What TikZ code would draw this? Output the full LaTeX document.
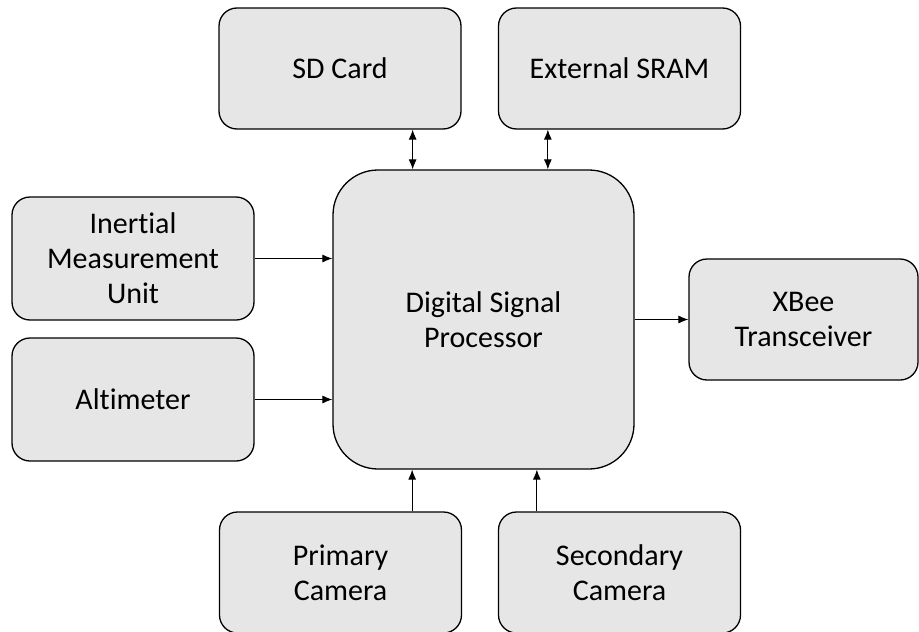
\documentclass[tikz,border=0pt]{standalone}
\usepackage{fontspec}
\setmainfont{Carlito}[Ligatures=NoCommon]
\usepackage{xcolor}
\usetikzlibrary{arrows.meta, positioning, calc}
\definecolor{boxgray}{RGB}{230, 230, 230}

\begin{document}
\begin{tikzpicture}[x=1pt, y=-1pt,
    block/.style={draw, line width=1.3pt, fill=boxgray, rounded corners=18pt, align=center,
        inner sep=0pt, minimum width=242pt, minimum height=121pt,
        font=\fontsize{30}{35}\selectfont},
    arr/.style={-{Latex[length=10pt, width=8pt]}, line width=0.9pt},
    biarr/.style={{Latex[length=10pt, width=8pt]}-{Latex[length=10pt, width=8pt]}, line width=0.9pt}]
    \useasboundingbox (0,0) rectangle (919,632);

    % Central node
    \node[block, rounded corners=45pt, minimum width=301pt, minimum height=299pt] (dsp) at (483.5, 319.5) {Digital Signal\\Processor};

    % Memory
    \node[block] (sd) at (340, 68.5) {SD Card};
    \node[block] (sram) at (619.5, 68.5) {External SRAM};

    % Sensors
    \node[block, minimum height=123pt] (imu) at (133, 258.5) {Inertial\\Measurement\\Unit};
    \node[block, minimum height=123pt] (alt) at (133, 399.5) {Altimeter};

    % Radio
    \node[block, minimum width=229pt] (xbee) at (803.5, 319.5) {XBee\\Transceiver};

    % Cameras
    \node[block] (pri) at (340.5, 572.5) {Primary\\Camera};
    \node[block] (sec) at (619.5, 572.5) {Secondary\\Camera};

    % Arrows
    \draw[biarr] ([xshift=-49]sd.south east) -- ([xshift=-49]sd.south east |- dsp.north);
    \draw[biarr] ([xshift=50]sram.south west) -- ([xshift=50]sram.south west |- dsp.north);
    \draw[arr] (imu.east) -- (imu.east -| dsp.west);
    \draw[arr] (alt.east) -- (alt.east -| dsp.west);
    \draw[arr] (dsp.east) -- (xbee.west);
    \draw[arr] ([xshift=-50]pri.north east) -- ([xshift=-50]pri.north east |- dsp.south);
    \draw[arr] ([xshift=39]sec.north west) -- ([xshift=39]sec.north west |- dsp.south);
\end{tikzpicture}
\end{document}
